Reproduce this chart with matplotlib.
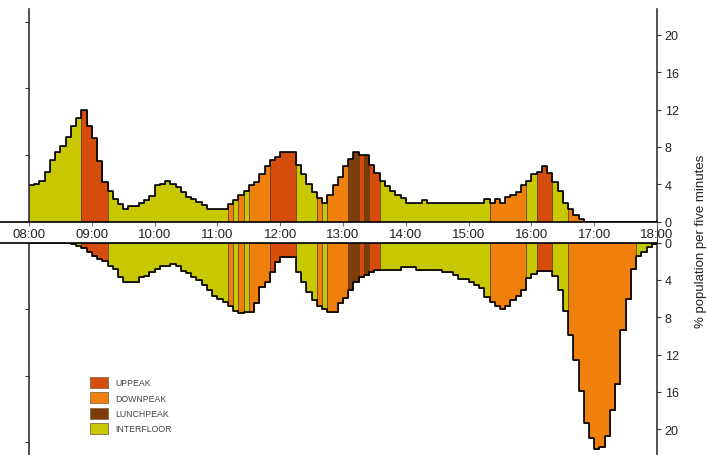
import numpy as np
import matplotlib
matplotlib.use("Agg")
import matplotlib.pyplot as plt
from matplotlib.patches import Patch

plt.rcParams["font.family"] = ["Liberation Sans", "DejaVu Sans"]

# ---------------- data: 5-minute intervals from 08:00 to 18:00 ----------------
hour_labels = ["08:00", "09:00", "10:00", "11:00", "12:00", "13:00",
               "14:00", "15:00", "16:00", "17:00", "18:00"]

# % population per five minutes travelling up (upper half)
up_traffic = [
    3.9, 4.05, 4.3, 5.3, 6.6, 7.5, 8.1, 9.1, 10.2, 11.1,
    12.0, 10.2, 9.0, 6.5, 4.2, 3.3, 2.4, 1.9, 1.4, 1.7,
    1.7, 2.0, 2.3, 2.8, 3.9, 4.05, 4.3, 4.0, 3.7, 3.15,
    2.6, 2.4, 2.1, 1.8, 1.4, 1.4, 1.4, 1.4, 1.9, 2.3,
    2.9, 3.3, 3.9, 4.2, 5.1, 6.0, 6.6, 6.9, 7.5, 7.5,
    7.5, 6.1, 5.1, 4.05, 3.15, 2.5, 2.0, 2.9, 3.9, 4.8,
    6.0, 6.7, 7.5, 7.1, 7.1, 6.1, 5.2, 4.3, 3.8, 3.3,
    2.9, 2.5, 2.0, 2.0, 2.0, 2.3, 2.0, 2.0, 2.0, 2.0,
    2.0, 2.0, 2.0, 2.0, 2.0, 2.0, 2.0, 2.4, 2.0, 2.4,
    2.0, 2.6, 2.9, 3.2, 3.9, 4.3, 5.1, 5.3, 6.0, 5.2,
    4.2, 3.3, 2.0, 1.4, 0.7, 0.3, 0, 0, 0, 0,
    0, 0, 0, 0, 0, 0, 0, 0, 0, 0,
]

# % population per five minutes travelling down (lower half)
down_traffic = [
    0, 0, 0, 0, 0, 0, 0, 0, 0.15, 0.35,
    0.6, 1.05, 1.4, 1.75, 2.0, 2.5, 2.8, 3.7, 4.2, 4.2,
    4.2, 3.7, 3.6, 3.2, 2.8, 2.5, 2.5, 2.3, 2.5, 3.0,
    3.3, 3.7, 4.0, 4.6, 5.1, 5.7, 6.0, 6.4, 6.8, 7.3,
    7.6, 7.4, 7.4, 6.5, 4.8, 4.2, 3.2, 2.1, 1.6, 1.6,
    1.6, 3.2, 4.2, 5.3, 6.2, 6.8, 7.1, 7.4, 7.4, 6.5,
    5.9, 5.1, 4.2, 3.7, 3.5, 3.2, 2.9, 2.9, 2.9, 2.9,
    2.9, 2.6, 2.6, 2.6, 2.9, 2.9, 2.9, 2.9, 2.9, 3.2,
    3.2, 3.5, 3.9, 3.9, 4.2, 4.6, 4.9, 5.8, 6.4, 6.8,
    7.1, 6.8, 6.2, 5.7, 5.1, 3.8, 3.35, 3.0, 3.0, 3.0,
    3.6, 5.1, 7.3, 9.9, 12.6, 15.9, 19.3, 20.9, 22.1, 21.9,
    20.7, 17.9, 15.1, 9.4, 6.0, 2.8, 1.4, 1.05, 0.5, 0.16,
]

# traffic mode of each interval: U=uppeak, D=downpeak, L=lunchpeak, I=interfloor
traffic_mode = ("IIIIIIIIII" "UUUUU" "IIIIIIIIIIIIIIIIIIIIIII" "D" "I" "D" "I"
                "DDDD" "UUUUU" "IIII" "D" "I" "DDDD" "LL" "U" "L" "UU"
                "IIIIIIIIIIIIIIIIIIIII" "DDDDDDD" "II" "UUU" "III"
                "DDDDDDDDDDDDD" "IIII")

mode_names = {"U": "UPPEAK", "D": "DOWNPEAK", "L": "LUNCHPEAK", "I": "INTERFLOOR"}
mode_colors = {"U": "#d64c0c", "D": "#f0800c", "L": "#7e3c0a", "I": "#c8c800"}

n_steps = len(up_traffic)
y_max = 22.75


def draw_half(ax, values):
    vals = np.array(values, dtype=float)
    edges = np.arange(n_steps + 1)
    start = 0
    # one filled block per run of equal traffic mode
    for k in range(1, n_steps + 1):
        if k == n_steps or traffic_mode[k] != traffic_mode[start]:
            xs = edges[start:k + 1]
            ys = np.append(vals[start:k], vals[k - 1])
            ax.fill_between(xs, 0, ys, step="post",
                            facecolor=mode_colors[traffic_mode[start]],
                            edgecolor="#5a3a10", linewidth=0.5)
            start = k
    ax.step(edges, np.append(vals, vals[-1]), where="post",
            color="black", linewidth=1.2)


fig = plt.figure(figsize=(7.07, 4.56), dpi=100)

x0 = 29 / 707
w = 628 / 707
ax_top = fig.add_axes([x0, 233.3 / 456, w, 212.7 / 456])
ax_bot = fig.add_axes([x0, 0, w, 212.5 / 456])
ax_mid = fig.add_axes([0, 212.5 / 456, 657 / 707, 20.8 / 456])

draw_half(ax_top, up_traffic)
draw_half(ax_bot, down_traffic)

ax_top.set_ylim(0, y_max)
ax_bot.set_ylim(y_max, 0)

for ax, (lo, hi) in [(ax_top, (-2.25, y_max)), (ax_bot, (y_max, -2.25))]:
    ax.set_xlim(0, n_steps)
    ax.set_facecolor("none")
    ax.spines["top"].set_visible(False)
    ax.spines["bottom"].set_visible(False)
    for side in ["left", "right"]:
        ax.spines[side].set_color("#333333")
        ax.spines[side].set_linewidth(1.2)
        ax.spines[side].set_bounds(lo, hi)
    ax.set_xticks([])
    # unlabeled ticks on the left
    ax.set_yticks([7.1, 14.25, 21.4])
    ax.tick_params(axis="y", which="both", left=True, right=False,
                   labelleft=False, length=3, color="#333333")
    # labelled ticks on the right
    twin = ax.twinx()
    twin.set_ylim(ax.get_ylim())
    twin.set_yticks([0, 4, 8, 12, 16, 20])
    twin.tick_params(axis="y", length=3, pad=2.5, labelsize=9,
                     color="#333333", labelcolor="#222222")
    for s in twin.spines.values():
        s.set_visible(False)

# middle band with the time labels
ax_mid.set_xlim(-29 * n_steps / 628, n_steps)
ax_mid.set_ylim(0, 1)
ax_mid.set_yticks([])
ax_mid.spines["left"].set_visible(False)
ax_mid.spines["right"].set_visible(False)
ax_mid.spines["top"].set_linewidth(1.2)
ax_mid.spines["bottom"].set_linewidth(1.2)
hour_pos = np.arange(len(hour_labels)) * 12
ax_mid.xaxis.set_ticks_position("top")
ax_mid.set_xticks(hour_pos)
ax_mid.tick_params(axis="x", direction="in", length=3, labeltop=False,
                   color="#777777")
for pos, lab in zip(hour_pos, hour_labels):
    ax_mid.text(pos, 0.42, lab, ha="center", va="center", fontsize=9.5,
                color="#222222")

# legend
handles = [Patch(facecolor=mode_colors[m], edgecolor="#8a6a40", linewidth=0.6,
                 label=mode_names[m]) for m in ["U", "D", "L", "I"]]
fig.legend(handles=handles, loc="upper left",
           bbox_to_anchor=(90 / 707, 1 - 378 / 456), frameon=False,
           fontsize=6.3, handlelength=2.05, handleheight=1.55,
           labelspacing=0.5, handletextpad=0.8, borderpad=0,
           borderaxespad=0, labelcolor="#444444")

fig.text(701 / 707, 1 - 241 / 456, "% population per five minutes",
         rotation=90, ha="center", va="center", fontsize=9.5, color="#222222")

fig.savefig("out.png", dpi=100)
